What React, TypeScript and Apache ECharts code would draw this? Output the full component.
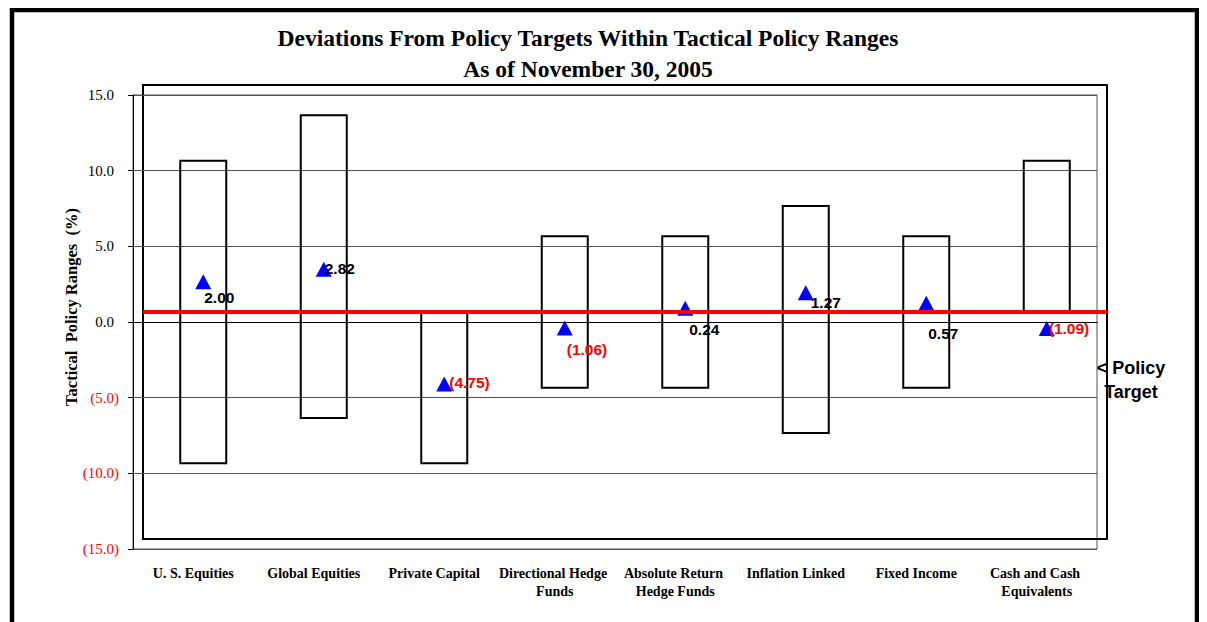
import React, { useEffect, useRef } from "react";
import * as echarts from "echarts";

const categories = [
  "U. S. Equities",
  "Global Equities",
  "Private Capital",
  "Directional Hedge Funds",
  "Absolute Return Hedge Funds",
  "Inflation Linked",
  "Fixed Income",
  "Cash and Cash Equivalents",
];
const rangeHigh = [10, 13, 0, 5, 5, 7, 5, 10];
const rangeLow = [-10, -7, -10, -5, -5, -8, -5, 0];
const deviations = [2.0, 2.82, -4.75, -1.06, 0.24, 1.27, 0.57, -1.09];
const policyTarget = 0;
const yMin = -15;
const yMax = 15;
const yInterval = 5;

// label offsets (px) relative to each marker centre — style only
const labelOffsets = [
  [1, 16],
  [1, -1],
  [5, -1],
  [2, 21],
  [4, 21],
  [5, 10],
  [2, 30],
  [2, 0],
];

const SERIF = "'Liberation Serif', 'Times New Roman', serif";
const SANS = "'Liberation Sans', Arial, sans-serif";

const fmt2 = (v: number) => (v < 0 ? `(${Math.abs(v).toFixed(2)})` : v.toFixed(2));

export default function App() {
  const ref = useRef<HTMLDivElement>(null);
  useEffect(() => {
    if (!ref.current) return;
    const chart = echarts.init(ref.current, undefined, { renderer: "svg" });
    const W = 964;
    const H = 454;
    const option: any = {
      animation: false,
      backgroundColor: "#fff",
      grid: [
        { left: 125, top: 87, width: W, height: H, show: true, borderColor: "#555", borderWidth: 1, backgroundColor: "transparent" },
        { left: 135, top: 77, width: W, height: H, show: true, borderColor: "#000", borderWidth: 2, backgroundColor: "transparent" },
      ],
      xAxis: [
        {
          type: "category",
          gridIndex: 0,
          data: categories,
          axisLine: { show: true, lineStyle: { color: "#000", width: 1 } },
          axisTick: { show: false },
          splitLine: { show: false },
          axisLabel: {
            interval: 0,
            margin: 15,
            fontFamily: SERIF,
            fontWeight: "bold",
            fontSize: 14,
            color: "#000",
            width: 120,
            overflow: "break",
            lineHeight: 18,
          },
        },
        { type: "category", gridIndex: 1, data: categories, show: false },
      ],
      yAxis: [
        {
          type: "value",
          gridIndex: 0,
          min: yMin,
          max: yMax,
          interval: yInterval,
          axisLine: { show: true, lineStyle: { color: "#000", width: 1 } },
          axisTick: { show: true, length: 5, lineStyle: { color: "#000" } },
          splitLine: { show: true, lineStyle: { color: "#555", width: 1 } },
          axisLabel: {
            margin: 14,
            formatter: (v: number) =>
              v < 0 ? `{n|(${Math.abs(v).toFixed(1)})}` : `{p|${v.toFixed(1)}}`,
            rich: {
              n: { color: "#ff0000", fontFamily: SERIF, fontSize: 15 },
              p: { color: "#000", fontFamily: SERIF, fontSize: 15, padding: [0, 5, 0, 0] },
            },
          },
        },
        { type: "value", gridIndex: 1, min: yMin, max: yMax, show: false, splitLine: { show: false } },
      ],
      series: [
        {
          type: "custom",
          xAxisIndex: 1,
          yAxisIndex: 1,
          z: 2,
          data: categories.map((_, i) => [i, rangeHigh[i], rangeLow[i]]),
          encode: { x: 0, y: [1, 2] },
          renderItem: (params: any, api: any) => {
            const i = api.value(0);
            const top = api.coord([i, api.value(1)]);
            const bot = api.coord([i, api.value(2)]);
            const w = 46;
            return {
              type: "rect",
              shape: { x: top[0] - w / 2, y: top[1], width: w, height: bot[1] - top[1] },
              style: { fill: "none", stroke: "#000", lineWidth: 2 },
            };
          },
        },
        {
          type: "line",
          xAxisIndex: 1,
          yAxisIndex: 1,
          z: 3,
          data: [],
          markLine: {
            silent: true,
            symbol: "none",
            label: { show: false },
            lineStyle: { color: "#ff0000", width: 4, type: "solid", opacity: 1 },
            data: [{ yAxis: policyTarget }],
          },
        },
        {
          type: "scatter",
          xAxisIndex: 1,
          yAxisIndex: 1,
          z: 4,
          symbol: "triangle",
          symbolSize: [16, 15],
          itemStyle: { color: "#0000ff", opacity: 1 },
          data: deviations.map((v, i) => ({
            value: [i, v],
            label: {
              show: true,
              position: "inside",
              align: "left",
              verticalAlign: "middle",
              offset: labelOffsets[i],
              formatter: fmt2(v),
              fontFamily: SANS,
              fontWeight: "bold",
              fontSize: 15.5,
              color: v < 0 ? "#ff0000" : "#000",
            },
          })),
        },
      ],
      graphic: [
        {
          type: "rect",
          silent: true,
          z: 100,
          shape: { x: 4, y: 2, width: 1185, height: 800 },
          style: { fill: "none", stroke: "#000", lineWidth: 4.5 },
        },
        {
          type: "text",
          silent: true,
          style: {
            x: 580,
            y: 30,
            text: "Deviations From Policy Targets Within Tactical Policy Ranges",
            align: "center",
            verticalAlign: "middle",
            font: `bold 23.5px ${SERIF}`,
            fill: "#000",
          },
        },
        {
          type: "text",
          silent: true,
          style: {
            x: 580,
            y: 61,
            text: "As of November 30, 2005",
            align: "center",
            verticalAlign: "middle",
            font: `bold 23.5px ${SERIF}`,
            fill: "#000",
          },
        },
        {
          type: "text",
          silent: true,
          x: 63.5,
          y: 299,
          rotation: Math.PI / 2,
          style: {
            x: 0,
            y: 0,
            text: "Tactical  Policy Ranges  (%)",
            align: "center",
            verticalAlign: "middle",
            font: `bold 16.5px ${SERIF}`,
            fill: "#000",
          },
        },
        {
          type: "text",
          silent: true,
          style: {
            x: 1123,
            y: 372,
            text: "< Policy\nTarget",
            align: "center",
            verticalAlign: "middle",
            lineHeight: 24,
            font: `bold 18px ${SANS}`,
            fill: "#000",
          },
        },
      ],
    };
    chart.setOption(option);
    return () => chart.dispose();
  }, []);
  return <div ref={ref} style={{ width: 1191, height: 614 }} />;
}
